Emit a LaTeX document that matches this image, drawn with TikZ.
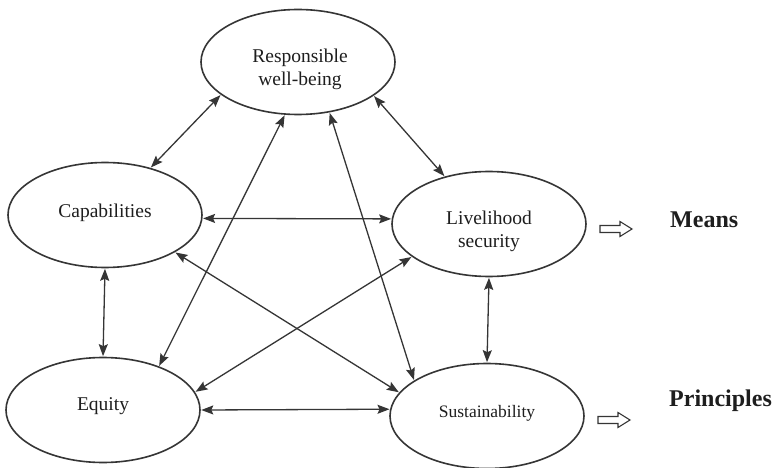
\documentclass[tikz,border=0pt]{standalone}
\usepackage{fontspec}
\setmainfont{Liberation Serif}
\usetikzlibrary{arrows.meta,shapes.geometric}
\definecolor{linec}{HTML}{353535}
\definecolor{txtc}{HTML}{1E1E1E}
\begin{document}
\begin{tikzpicture}[x=1pt,y=-1pt,
  ell/.style={draw=linec, line width=1.6pt, ellipse, inner sep=0pt, minimum width=194pt, minimum height=105pt},
  lbl/.style={text=txtc, font=\fontsize{19.5}{23}\selectfont, align=center, inner sep=0pt},
  big/.style={text=txtc, font=\fontsize{24}{28}\selectfont\bfseries, inner sep=0pt, anchor=west},
  conn/.style={draw=linec, line width=1.3pt, {Stealth[length=12pt,width=9pt,inset=2pt]}-{Stealth[length=12pt,width=9pt,inset=2pt]}, shorten <=0.5pt, shorten >=0.5pt},
  hollow/.style={draw=linec, line width=1.1pt, line join=miter}]
\fill[white] (0,0) rectangle (777,468);
\useasboundingbox (0,0) rectangle (777,468);
% ellipses
\node[ell] (rwb) at (298,62) {};
\node[ell] (cap) at (105,215) {};
\node[ell] (liv) at (489,224) {};
\node[ell] (eq)  at (103,410) {};
\node[ell] (sus) at (487,416) {};
% texts
\node[lbl] (rwbt) at (300,69) {Responsible\\well-being};
\node[lbl] (capt) at (105,213) {Capabilities};
\node[lbl] (livt) at (489,231) {Livelihood\\security};
\node[lbl] (eqt)  at (103,406) {Equity};
\node[lbl, font=\fontsize{17.5}{21}\selectfont] (sust) at (487,413) {Sustainability};
% connectors
\draw[conn] (rwb.203) -- (cap.46);
\draw[conn] (rwb.336) -- (liv.133);
\draw[conn] (rwb.256) -- (eq.38);
\draw[conn] (rwb.302) -- (sus.154.6);
\draw[conn] (cap.-2.4) -- (liv.177.6);
\draw[conn] (cap.south) -- (eq.north);
\draw[conn] (liv.south) -- (sus.north);
\draw[conn] (eq.0) -- (sus.176.5);
\draw[conn] (cap.332) -- (sus.165.4);
\draw[conn] (eq.11.6) -- (liv.203);
% means / principles
\draw[hollow] (600,225.5) -- (620,225.5) -- (620,221.5) -- (632,229) -- (620,236.5) -- (620,232.5) -- (600,232.5) -- cycle;
\node[big] (means) at (670,220) {Means};
\draw[hollow] (598,416.5) -- (618,416.5) -- (618,412.5) -- (630,420) -- (618,427.5) -- (618,423.5) -- (598,423.5) -- cycle;
\node[big] (princ) at (669,401) {Principles};
\end{tikzpicture}
\end{document}
